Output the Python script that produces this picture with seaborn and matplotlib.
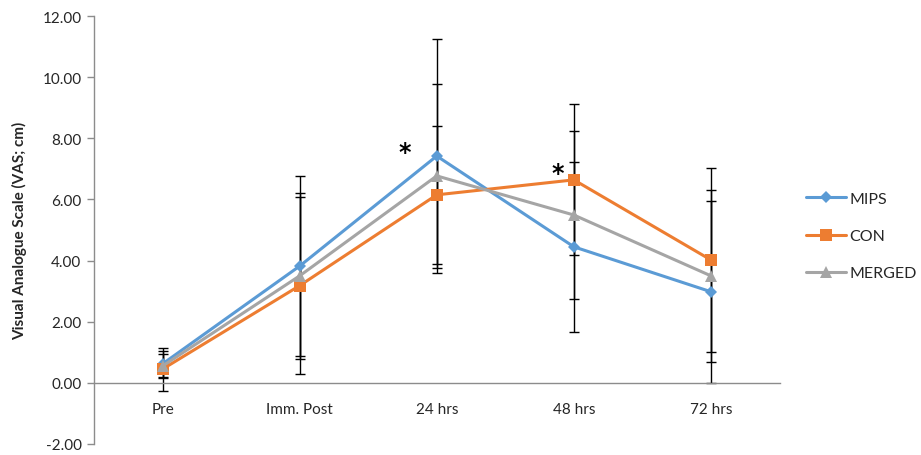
import numpy as np
import pandas as pd
import matplotlib
matplotlib.use("Agg")
import matplotlib.pyplot as plt
import seaborn as sns

categories = ["Pre", "Imm. Post", "24 hrs", "48 hrs", "72 hrs"]
groups = ["MIPS", "CON", "MERGED"]
mips_mean = [0.62, 3.82, 7.42, 4.45, 2.98]
mips_sd = [0.43, 2.95, 3.83, 2.79, 2.97]
con_mean = [0.45, 3.18, 6.15, 6.64, 4.02]
con_sd = [0.70, 2.90, 2.25, 2.47, 3.00]
merged_mean = [0.55, 3.50, 6.77, 5.49, 3.50]
merged_sd = [0.40, 2.71, 3.00, 2.74, 2.81]
colors = ["#5B9BD5", "#ED7D31", "#A5A5A5"]
markers = ["D", "s", "^"]
msizes = [6, 8, 8]
sig_labels = ["", "", "*", "*", ""]
sig_y = [0, 0, 7.55, 6.85, 0]
sig_dx = [0, 0, -0.23, -0.12, 0]

sns.set_theme(style="white")
plt.rcParams["font.family"] = ["Lato", "DejaVu Sans"]

means = [mips_mean, con_mean, merged_mean]
sds = [mips_sd, con_sd, merged_sd]
df = pd.DataFrame({
    "Time": categories * len(groups),
    "VAS": sum(means, []),
    "SD": sum(sds, []),
    "Group": [g for g in groups for _ in categories],
})

fig = plt.figure(figsize=(9.21, 4.56), dpi=100)
ax = fig.add_axes([94 / 921, 1 - 445 / 456, (779.5 - 94) / 921, (445 - 17) / 456])

sns.lineplot(data=df, x="Time", y="VAS", hue="Group", style="Group",
             markers=dict(zip(groups, markers)), dashes=False,
             palette=dict(zip(groups, colors)), linewidth=2.2,
             markeredgewidth=0, ax=ax, zorder=3, legend=False)
for line, ms in zip(ax.get_lines(), msizes):
    line.set_markersize(ms)

x = np.arange(len(categories))
for g, m, s in zip(groups, means, sds):
    ax.errorbar(x, m, yerr=s, fmt="none", ecolor="black", elinewidth=1.0,
                capsize=3.5, capthick=1.0, zorder=1)

for i, lab in enumerate(sig_labels):
    if lab:
        ax.text(x[i] + sig_dx[i], sig_y[i], lab, ha="center", va="center",
                fontsize=17, fontweight="bold", color="black", family="DejaVu Sans")

ax.set_xlim(-0.5, len(categories) - 0.5)
ax.set_ylim(-2, 12)
ax.set_yticks(np.arange(-2, 12.01, 2))
ax.set_yticklabels([f"{v:.2f}" for v in np.arange(-2, 12.01, 2)], fontsize=11)
ax.set_xticks(x)
ax.set_xticklabels(categories, fontsize=11)
ax.set_xticks(np.arange(-0.5, len(categories), 1), minor=True)
ax.tick_params(axis="x", which="major", length=0, pad=14)
ax.tick_params(axis="x", which="minor", length=5, direction="out", color="#8C8C8C", width=1)
ax.tick_params(axis="y", length=5, direction="out", color="#8C8C8C", width=1, pad=4, left=True)
ax.spines["bottom"].set_position(("data", 0))
for sp in ["top", "right"]:
    ax.spines[sp].set_visible(False)
for sp in ["left", "bottom"]:
    ax.spines[sp].set_color("#8C8C8C")
    ax.spines[sp].set_linewidth(1)
ax.set_xlabel("")
ax.set_ylabel("Visual Analogue Scale (VAS; cm)", fontsize=11, fontweight="bold", labelpad=11)

handles = [plt.Line2D([], [], color=c, marker=mk, markersize=ms, linewidth=2.2, markeredgewidth=0)
           for c, mk, ms in zip(colors, markers, msizes)]
fig.legend(handles, groups, loc="center left", bbox_to_anchor=(806 / 921, 1 - 237 / 456),
           frameon=False, fontsize=11.5, handlelength=2.5, labelspacing=1.45,
           handletextpad=0.2, borderpad=0, borderaxespad=0)

fig.savefig("out.png", dpi=100)
